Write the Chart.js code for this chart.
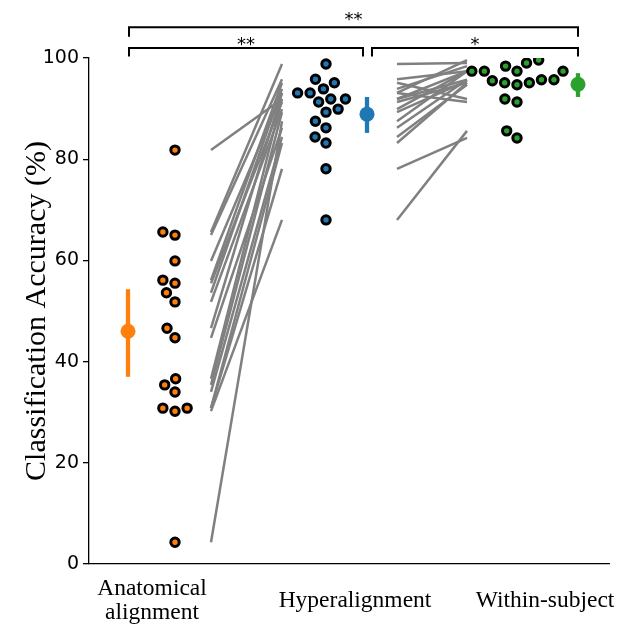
<!DOCTYPE html>
<html><head><meta charset="utf-8">
<script src="https://cdn.jsdelivr.net/npm/chart.js@4/dist/chart.umd.min.js"></script>
<style>html,body{margin:0;padding:0;background:#fff}#wrap{width:618px;height:629px}</style>
</head><body><div id="wrap"><canvas id="c" width="618" height="629"></canvas></div>
<script>
// ---- data ----
const categories = [['Anatomical', 'alignment'], 'Hyperalignment', 'Within-subject'];
const anatomical = [81.8, 65.6, 65.0, 59.9, 56.1, 55.5, 53.6, 51.8, 46.6, 44.7, 36.6, 35.4, 34.0, 30.8, 30.2, 30.8, 4.3];
const hyperalignment = [91.9, 98.8, 95.8, 93.1, 95.1, 91.3, 93.9, 89.9, 93.1, 86.2, 91.9, 89.3, 84.4, 83.2, 68.0, 78.1, 87.5];
const withinSubject = [95.7, 99.0, 97.4, 91.3, 91.9, 95.1, 98.4, 97.4, 99.6, 95.7, 97.4, 95.5, 94.7, 95.1, 85.6, 84.2, 97.4];
const meanValues = [46.0, 88.9, 94.8];
const errLow = [37.0, 85.2, 92.3];
const errHigh = [54.3, 92.3, 97.0];
const yTicks = [0, 20, 40, 60, 80, 100];
const sigLabels = ['**', '**', '*'];

// ---- layout constants (x scale units = px from left axis) ----
const colors = ['#ff7f0e', '#1f77b4', '#2ca02c'];
const labelX = [63, 266, 456];
const swarmX = [86, 237, 428];
const meanX = [39, 278, 489];
const pairX = [[122, 193], [308, 378]];
const brackets = [
  {x1: 40, x2: 489, y: 106.1, leg: 104.2, text: 108.3},
  {x1: 40, x2: 274, y: 102.0, leg: 100.3, text: 103.3},
  {x1: 283, x2: 489, y: 102.0, leg: 100.3, text: 103.3}
];

const groups = [anatomical, hyperalignment, withinSubject];
const datasets = [];
groups.forEach((vals, g) => {
  datasets.push({
    type: 'scatter', data: vals.map(v => ({x: swarmX[g], y: v})),
    backgroundColor: colors[g], borderColor: '#000', borderWidth: 3,
    pointRadius: 4.2, order: 1, swarm: g
  });
});
groups.forEach((vals, g) => {
  datasets.push({
    type: 'scatter', data: [{x: meanX[g], y: meanValues[g]}],
    backgroundColor: colors[g], borderColor: colors[g], borderWidth: 0,
    pointRadius: 7.5, order: 1
  });
  datasets.push({
    type: 'line', data: [{x: meanX[g], y: errLow[g]}, {x: meanX[g], y: errHigh[g]}],
    borderColor: colors[g], borderWidth: 4.3, pointRadius: 0, order: 2, borderCapStyle: 'butt'
  });
});
for (let s = 0; s < anatomical.length; s++) {
  const pairs = [[anatomical[s], hyperalignment[s]], [hyperalignment[s], withinSubject[s]]];
  pairs.forEach((p, k) => {
    datasets.push({
      type: 'line', data: [{x: pairX[k][0], y: p[0]}, {x: pairX[k][1], y: p[1]}],
      borderColor: '#808080', borderWidth: 2.5, pointRadius: 0, order: 3
    });
  });
}

const bracketPlugin = {
  id: 'brackets',
  afterDraw(chart) {
    const {ctx, scales: {x, y}} = chart;
    ctx.save();
    ctx.strokeStyle = '#000';
    ctx.lineWidth = 2;
    ctx.fillStyle = '#000';
    ctx.font = '18px "DejaVu Sans"';
    ctx.textAlign = 'center';
    ctx.textBaseline = 'middle';
    brackets.forEach((b, i) => {
      const x1 = x.getPixelForValue(b.x1), x2 = x.getPixelForValue(b.x2);
      const yy = y.getPixelForValue(b.y), yl = y.getPixelForValue(b.leg);
      ctx.beginPath();
      ctx.moveTo(x1, yl); ctx.lineTo(x1, yy); ctx.lineTo(x2, yy); ctx.lineTo(x2, yl);
      ctx.stroke();
      ctx.fillText(sigLabels[i], (x1 + x2) / 2, y.getPixelForValue(b.text) + 4);
    });
    ctx.restore();
  }
};

const chart = new Chart(document.getElementById('c').getContext('2d'), {
  type: 'scatter',
  data: {datasets},
  options: {
    responsive: false, animation: false, devicePixelRatio: 1,
    layout: {padding: {top: 58, right: 9, left: 0, bottom: 0}},
    plugins: {legend: {display: false}, tooltip: {enabled: false}},
    scales: {
      x: {
        type: 'linear', min: 0, max: 520,
        afterFit(s) { s.height = 65; s.paddingLeft = 0; s.paddingRight = 0; },
        afterBuildTicks(s) { s.ticks = labelX.map(v => ({value: v})); },
        ticks: {
          callback: (v, i) => categories[i], color: '#000', maxRotation: 0, autoSkip: false,
          crossAlign: 'center',
          font: {family: 'Liberation Serif', size: 23.5, lineHeight: 1.0}, padding: 17
        },
        grid: {display: false},
        border: {display: true, color: '#000', width: 1.3}
      },
      y: {
        min: 0, max: 100,
        afterFit(s) { s.width = 89; s.paddingTop = 0; s.paddingBottom = 0; },
        afterBuildTicks(s) { s.ticks = yTicks.map(v => ({value: v})); },
        ticks: {color: '#000', font: {family: 'DejaVu Sans', size: 19}, padding: 4},
        grid: {drawOnChartArea: false, drawTicks: true, tickLength: 6, color: '#000', lineWidth: 1.3},
        border: {display: true, color: '#000', width: 1.3},
        title: {display: true, text: 'Classification Accuracy (%)', color: '#000',
          font: {family: 'Liberation Serif', size: 30}, padding: {top: 19, bottom: 0}}
      }
    }
  },
  plugins: [bracketPlugin]
});

// beeswarm placement computed in pixel space via the chart's scales
function swarm(values, centerVal, d) {
  const xs = chart.scales.x, ys = chart.scales.y;
  const cpx = xs.getPixelForValue(centerVal);
  const py = values.map(v => ys.getPixelForValue(v));
  const order = values.map((v, i) => i).sort((a, b) => values[a] - values[b]);
  const placed = [];
  const out = new Array(values.length);
  for (const i of order) {
    const yv = py[i];
    const cands = [0];
    for (const p of placed) {
      const dy = Math.abs(p.y - yv);
      if (dy < d) { const dx = Math.sqrt(d * d - dy * dy); cands.push(p.x + dx, p.x - dx); }
    }
    const valid = cands.filter(c => placed.every(p => (p.x - c) ** 2 + (p.y - yv) ** 2 >= d * d - 1e-6));
    valid.sort((a, b) => Math.abs(a) - Math.abs(b) || a - b);
    const xo = valid[0];
    placed.push({x: xo, y: yv});
    out[i] = xs.getValueForPixel(cpx + xo);
  }
  return out;
}
chart.data.datasets.forEach(ds => {
  if (ds.swarm !== undefined) {
    const vals = groups[ds.swarm];
    const xs = swarm(vals, swarmX[ds.swarm], 12.5);
    ds.data = vals.map((v, i) => ({x: xs[i], y: v}));
  }
});
chart.update('none');
</script></body></html>
